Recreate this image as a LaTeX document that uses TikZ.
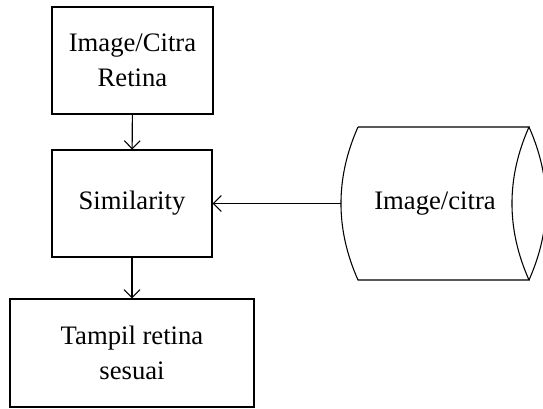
\documentclass[tikz,border=0pt]{standalone}
\usepackage{fontspec}
\setmainfont{Liberation Serif}
\usepackage{tikz}
\usetikzlibrary{arrows.meta}
\tikzset{%
	box/.style = {draw,line width=0.8pt,align=center,inner sep=2pt,font=\fontsize{20}{26}\selectfont},
	flow/.style = {line width=0.8pt,-{Straight Barb[length=6pt,width=12pt,line width=0.8pt]}}%
}

\begin{document}
\begin{tikzpicture}[x=0.75pt,y=-0.75pt]
		\useasboundingbox (0,0) rectangle (543,408);
		
		\node(citra)[box,minimum width=120.75pt,minimum height=80.25pt]at(132.5,60.5){Image/Citra\\Retina};
		\node(sim)[box,minimum width=120pt,minimum height=80.25pt]at(132,203.5){Similarity};
		\node(tampil)[box,minimum width=183pt,minimum height=81pt]at(132,353){Tampil retina\\sesuai};
		
		% database
		\draw[line width=0.8pt](358,127)--(529,127)
			.. controls (506.3,178) and (506.3,229) .. (529,280)
			--(358,280)
			.. controls (335.3,229) and (335.3,178) .. (358,127);
		\draw[line width=0.8pt](529,127) .. controls (551.7,178) and (551.7,229) .. (529,280);
		\node(db)[font=\fontsize{20}{26}\selectfont]at(435,203.5){Image/citra};
		\coordinate(dbin)at(341,203.5);
		
		\draw[flow](citra)--(sim);
		\draw[flow](sim)--(tampil);
		\draw[flow](dbin)--(sim);
\end{tikzpicture}
\end{document}
